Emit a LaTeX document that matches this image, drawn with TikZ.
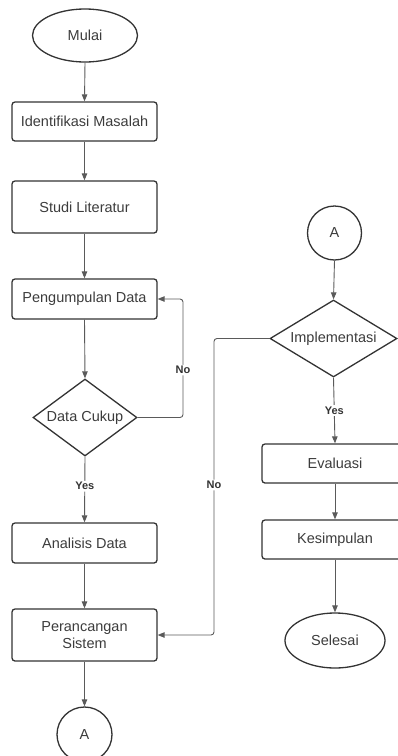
\documentclass[tikz,border=0pt]{standalone}
\usepackage{fontspec}
\setmainfont{Liberation Sans}
\usetikzlibrary{shapes.geometric,arrows.meta}
\definecolor{txt}{HTML}{3C3C3C}
\definecolor{brd}{HTML}{333333}
\definecolor{lnk}{HTML}{5A5A5A}
\begin{document}
\begin{tikzpicture}[x=1pt,y=-1pt,
  every node/.style={font=\fontsize{14.5}{17.5}\selectfont, text=txt},
  procbox/.style={draw=brd, line width=1.3pt, rounded corners=3pt, minimum width=145, inner sep=0pt, align=center},
  termin/.style={draw=brd, line width=1.3pt, ellipse, inner sep=0pt},
  decis/.style={draw=brd, line width=1.3pt, diamond, inner sep=0pt},
  conn/.style={draw=brd, line width=1.3pt, circle, inner sep=0pt, minimum size=55},
  link/.style={draw=lnk, line width=0.9pt, rounded corners=3pt, -{Triangle[length=7pt,width=5.5pt]}},
  lbl/.style={fill=white, inner sep=1.5pt, font=\bfseries\fontsize{11}{13}\selectfont, text=brd}]
\useasboundingbox (0,0) rectangle (398,756);
\clip (0,0) rectangle (398,756);
% left column
\node[termin, minimum width=105, minimum height=53] (mulai) at (85,35.5) {Mulai};
\node[procbox, minimum height=39] (ident) at (84.5,121.5) {Identifikasi Masalah};
\node[procbox, minimum height=52] (studi) at (84.5,207) {Studi Literatur};
\node[procbox, minimum height=40] (pengum) at (84.5,299) {Pengumpulan Data};
\node[decis, minimum width=104, minimum height=77] (cukup) at (85,417.5) {};
\node (cukupt) at (cukup) {Data Cukup};
\node[procbox, minimum height=40] (anal) at (84.5,543) {Analisis Data};
\node[procbox, minimum height=52] (peran) at (84.5,635) {Perancangan\\Sistem};
\node[conn] (abot) at (84.5,734.5) {A};
% right column
\node[conn, minimum size=54] (atop) at (334.5,233) {A};
\node[decis, minimum width=127, minimum height=77] (impl) at (333.5,338.5) {};
\node (implt) at (impl) {Implementasi};
\node[procbox, minimum height=39, minimum width=146] (eval) at (335,463.5) {Evaluasi};
\node[procbox, minimum height=39, minimum width=146] (kesim) at (335,539.5) {Kesimpulan};
\node[termin, minimum width=100, minimum height=55] (selesai) at (335,640.5) {Selesai};
% helper coordinates
\coordinate (c1) at (183,299);
\coordinate (c2) at (214,635);
% connectors left
\draw[link] (mulai.south) -- (ident.north);
\draw[link] (ident.south) -- (studi.north);
\draw[link] (studi.south) -- (pengum.north);
\draw[link] (pengum.south) -- (cukup.north);
\draw[link] (cukup.south) -- node[lbl, pos=0.45] {Yes} (anal.north);
\draw[link] (anal.south) -- (peran.north);
\draw[link] (peran.south) -- (abot.north);
\draw[link] (cukup.east) -| node[lbl, pos=0.7] {No} (c1) -- (pengum.east);
% connectors right
\draw[link] (atop.south) -- (impl.north);
\draw[link] (impl.south) -- node[lbl, pos=0.5] {Yes} (eval.north);
\draw[link] (eval.south) -- (kesim.north);
\draw[link] (kesim.south) -- (selesai.north);
\draw[link] (impl.west) -| node[lbl, pos=0.747] {No} (c2) -- (peran.east);
\end{tikzpicture}
\end{document}
